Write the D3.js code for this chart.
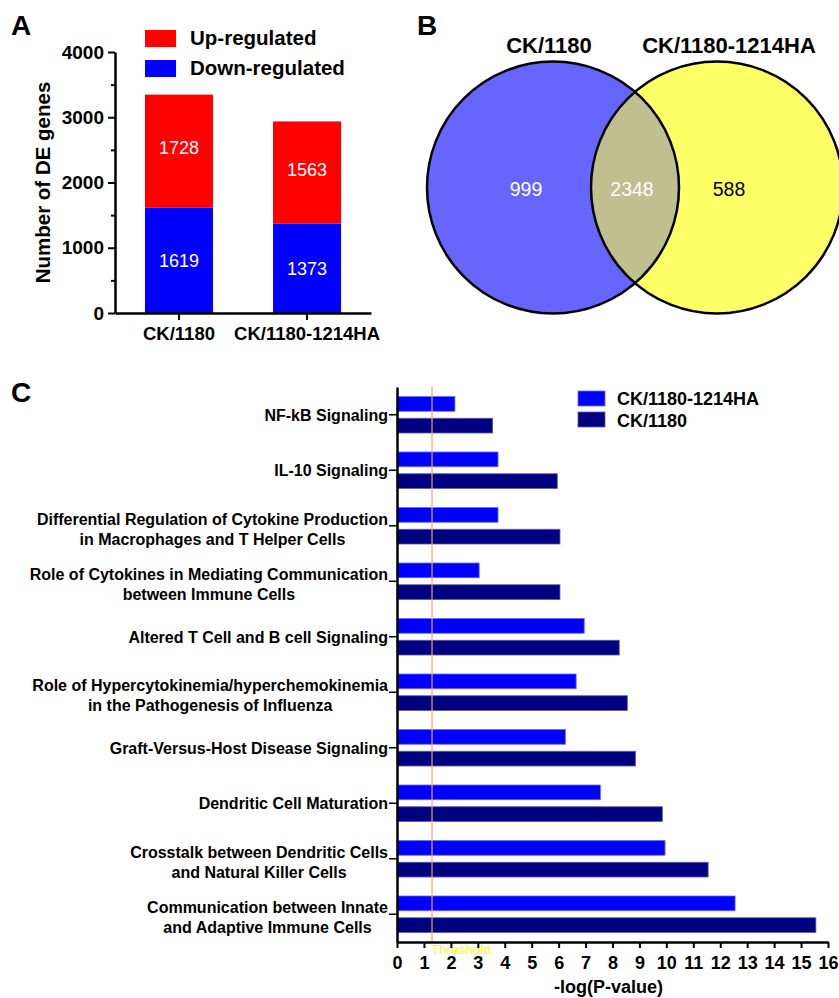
<!DOCTYPE html>
<html>
<head>
<meta charset="utf-8">
<script src="https://cdn.jsdelivr.net/npm/d3@7/dist/d3.min.js"></script>
<style>
  html, body { margin: 0; padding: 0; background: #fff; }
  svg { display: block; font-family: "Liberation Sans", Arial, Helvetica, sans-serif; }
</style>
</head>
<body>
<svg id="chart" width="839" height="998"></svg>
<script>
// ---------- DATA ----------
// Panel A
const groupsA = ["CK/1180", "CK/1180-1214HA"];
const downValues = [1619, 1373];
const upValues = [1728, 1563];
const seriesA = ["Up-regulated", "Down-regulated"];
const yTicksA = [0, 1000, 2000, 3000, 4000];

// Panel B
const vennSets = ["CK/1180", "CK/1180-1214HA"];
const vennOnlyLeft = 999;
const vennShared = 2348;
const vennOnlyRight = 588;

// Panel C
const pathways = [
  ["NF-kB Signaling"],
  ["IL-10 Signaling"],
  ["Differential Regulation of Cytokine Production", "in Macrophages and T Helper Cells"],
  ["Role of Cytokines in Mediating Communication", "between Immune Cells"],
  ["Altered T Cell and B cell Signaling"],
  ["Role of Hypercytokinemia/hyperchemokinemia", "in the Pathogenesis of Influenza"],
  ["Graft-Versus-Host Disease Signaling"],
  ["Dendritic Cell Maturation"],
  ["Crosstalk between Dendritic Cells", "and Natural Killer Cells"],
  ["Communication between Innate", "and Adaptive Immune Cells"]
];
const seriesC = ["CK/1180-1214HA", "CK/1180"];
const valuesHA = [2.15, 3.75, 3.75, 3.05, 6.95, 6.65, 6.25, 7.55, 9.95, 12.55];
const values1180 = [3.55, 5.95, 6.05, 6.05, 8.25, 8.55, 8.85, 9.85, 11.55, 15.55];
const xTicksC = d3.range(0, 17);
const threshold = 1.3;

// ---------- DRAW ----------
const svg = d3.select("#chart");
const black = "#000";

// Panel letters
svg.append("text").attr("x", 11).attr("y", 35).attr("font-size", 28).attr("font-weight", "bold").text("A");
svg.append("text").attr("x", 417).attr("y", 35).attr("font-size", 28).attr("font-weight", "bold").text("B");
svg.append("text").attr("x", 11).attr("y", 402).attr("font-size", 28).attr("font-weight", "bold").text("C");

// ===== Panel A =====
(function () {
  const left = 115, right = 371, top = 52, bottom = 313;
  const y = d3.scaleLinear().domain([0, 4000]).range([bottom, top]);
  const x = d3.scaleBand().domain(groupsA).range([left, right]).paddingInner(0.469).paddingOuter(0.234);
  const colors = { "Up-regulated": "#ff0000", "Down-regulated": "#0000ff" };
  const g = svg.append("g");

  groupsA.forEach((grp, i) => {
    const d = downValues[i], u = upValues[i];
    g.append("rect").attr("x", x(grp)).attr("width", x.bandwidth())
      .attr("y", y(d)).attr("height", y(0) - y(d)).attr("fill", colors["Down-regulated"]);
    g.append("rect").attr("x", x(grp)).attr("width", x.bandwidth())
      .attr("y", y(d + u)).attr("height", y(d) - y(d + u)).attr("fill", colors["Up-regulated"]);
    g.append("text").attr("x", x(grp) + x.bandwidth() / 2).attr("y", (y(0) + y(d)) / 2)
      .attr("dy", "0.36em").attr("text-anchor", "middle").attr("fill", "#fff").attr("font-size", 18).text(d);
    g.append("text").attr("x", x(grp) + x.bandwidth() / 2).attr("y", (y(d) + y(d + u)) / 2 - 3)
      .attr("dy", "0.36em").attr("text-anchor", "middle").attr("fill", "#fff").attr("font-size", 18).text(u);
  });

  const minor = g.append("g").attr("transform", `translate(${left},0)`)
    .call(d3.axisLeft(y).tickValues(d3.range(500, 4000, 1000)).tickSize(4).tickFormat(""));
  minor.select(".domain").remove();
  minor.selectAll("line").attr("stroke", black).attr("stroke-width", 2);

  const ya = g.append("g").attr("transform", `translate(${left},0)`)
    .call(d3.axisLeft(y).tickValues(yTicksA).tickSize(7).tickPadding(4).tickSizeOuter(0).tickFormat(d3.format("d")));
  ya.select(".domain").attr("stroke", black).attr("stroke-width", 2.5);
  ya.selectAll("line").attr("stroke", black).attr("stroke-width", 2);
  ya.selectAll("text").attr("font-size", 19).attr("font-weight", "bold").attr("fill", black).attr("font-family", null);

  const xa = g.append("g").attr("transform", `translate(0,${bottom})`)
    .call(d3.axisBottom(x).tickSize(7).tickPadding(7).tickSizeOuter(0));
  xa.select(".domain").attr("stroke", black).attr("stroke-width", 2.5);
  xa.selectAll("line").attr("stroke", black).attr("stroke-width", 2);
  xa.selectAll("text").attr("font-size", 18.5).attr("font-weight", "bold").attr("fill", black).attr("font-family", null);

  g.append("text").attr("transform", `translate(50,${(top + bottom) / 2})rotate(-90)`)
    .attr("text-anchor", "middle").attr("font-size", 20.5).attr("font-weight", "bold").text("Number of DE genes");

  seriesA.forEach((s, i) => {
    g.append("rect").attr("x", 145).attr("y", 30 + i * 30).attr("width", 31).attr("height", 17).attr("fill", colors[s]);
    g.append("text").attr("x", 190).attr("y", 45 + i * 30).attr("font-size", 20.5).attr("font-weight", "bold").text(s);
  });
})();

// ===== Panel B =====
(function () {
  const cx = d3.scalePoint().domain(vennSets).range([553, 717]);
  const cy = 187.5, r = 126;
  const g = svg.append("g");
  const defs = svg.append("defs");
  defs.append("clipPath").attr("id", "clipRight")
    .append("circle").attr("cx", cx(vennSets[1])).attr("cy", cy).attr("r", r);

  g.append("circle").attr("cx", cx(vennSets[0])).attr("cy", cy).attr("r", r).attr("fill", "#6666ff");
  g.append("circle").attr("cx", cx(vennSets[1])).attr("cy", cy).attr("r", r).attr("fill", "#ffff66");
  g.append("circle").attr("cx", cx(vennSets[0])).attr("cy", cy).attr("r", r).attr("fill", "#bfbf90")
    .attr("clip-path", "url(#clipRight)");
  vennSets.forEach(s => {
    g.append("circle").attr("cx", cx(s)).attr("cy", cy).attr("r", r).attr("fill", "none")
      .attr("stroke", black).attr("stroke-width", 2.5);
  });

  g.append("text").attr("x", 549).attr("y", 53).attr("text-anchor", "middle").attr("font-size", 22).attr("font-weight", "bold").text(vennSets[0]);
  g.append("text").attr("x", 729).attr("y", 53).attr("text-anchor", "middle").attr("font-size", 22).attr("font-weight", "bold").text(vennSets[1]);

  const mid = (cx(vennSets[0]) + cx(vennSets[1])) / 2;
  g.append("text").attr("x", 526).attr("y", cy + 8).attr("text-anchor", "middle").attr("font-size", 19.5).attr("fill", "#fff").text(vennOnlyLeft);
  g.append("text").attr("x", mid - 3).attr("y", cy + 8).attr("text-anchor", "middle").attr("font-size", 19.5).attr("fill", "#fff").text(vennShared);
  g.append("text").attr("x", 729).attr("y", cy + 8).attr("text-anchor", "middle").attr("font-size", 19.5).attr("fill", "#000").text(vennOnlyRight);
})();

// ===== Panel C =====
(function () {
  const left = 397, right = 828, top = 387, bottom = 942;
  const x = d3.scaleLinear().domain([0, 16]).range([left, right]);
  const keys = pathways.map(p => p.join(" "));
  const y0 = d3.scaleBand().domain(keys).range([top, bottom]).paddingInner(0.342).paddingOuter(0.171);
  const y1 = d3.scaleBand().domain(seriesC).range([0, y0.bandwidth()]).paddingInner(0.322);
  const colors = { "CK/1180-1214HA": "#0000ff", "CK/1180": "#000080" };
  const strokes = { "CK/1180-1214HA": "#6a6aff", "CK/1180": "#5a5aa8" };
  const g = svg.append("g");

  keys.forEach((k, i) => {
    const vals = { "CK/1180-1214HA": valuesHA[i], "CK/1180": values1180[i] };
    seriesC.forEach(s => {
      g.append("rect").attr("x", x(0)).attr("y", y0(k) + y1(s))
        .attr("width", x(vals[s]) - x(0)).attr("height", y1.bandwidth())
        .attr("fill", colors[s]).attr("stroke", strokes[s]).attr("stroke-width", 0.8);
    });
  });

  g.append("line").attr("x1", x(threshold)).attr("x2", x(threshold)).attr("y1", top).attr("y2", bottom)
    .attr("stroke", "#f5a46a").attr("stroke-width", 1.2);
  g.append("text").attr("x", x(threshold) - 1).attr("y", 954).attr("font-size", 13.5).attr("fill", "#ffff00").text("Threshold");

  const ya = g.append("g").attr("transform", `translate(${left},0)`)
    .call(d3.axisLeft(y0).tickSize(8).tickFormat("").tickSizeOuter(0));
  ya.select(".domain").attr("stroke", black).attr("stroke-width", 2.5);
  ya.selectAll("line").attr("stroke", black).attr("stroke-width", 1.5);

  keys.forEach((k, i) => {
    const lines = pathways[i];
    const cyv = y0(k) + y0.bandwidth() / 2;
    const tx = left - 9;
    if (lines.length === 1) {
      g.append("text").attr("x", tx).attr("y", cyv + 6).attr("text-anchor", "end")
        .attr("font-size", 16).attr("font-weight", "bold").text(lines[0]);
    } else {
      const t1 = g.append("text").attr("x", tx).attr("y", cyv - 1).attr("text-anchor", "end")
        .attr("font-size", 16).attr("font-weight", "bold").text(lines[0]);
      const w = t1.node().getComputedTextLength();
      g.append("text").attr("x", tx - w / 2).attr("y", cyv + 19).attr("text-anchor", "middle")
        .attr("font-size", 16).attr("font-weight", "bold").text(lines[1]);
    }
  });

  const xa = g.append("g").attr("transform", `translate(0,${bottom})`)
    .call(d3.axisBottom(x).tickValues(xTicksC).tickSize(6).tickPadding(8).tickFormat(d3.format("d")).tickSizeOuter(0));
  xa.select(".domain").attr("stroke", black).attr("stroke-width", 2.5);
  xa.selectAll("line").attr("stroke", black).attr("stroke-width", 2);
  xa.selectAll("text").attr("font-size", 18).attr("font-weight", "bold").attr("fill", black).attr("font-family", null);

  g.append("text").attr("x", (left + right) / 2 - 4).attr("y", 993).attr("text-anchor", "middle")
    .attr("font-size", 18).attr("font-weight", "bold").text("-log(P-value)");

  seriesC.forEach((s, i) => {
    g.append("rect").attr("x", 578).attr("y", 391 + i * 21).attr("width", 27).attr("height", 15)
      .attr("fill", colors[s]).attr("stroke", strokes[s]).attr("stroke-width", 0.8);
    g.append("text").attr("x", 617).attr("y", 405 + i * 22).attr("font-size", 18).attr("font-weight", "bold").text(s);
  });
})();
</script>
</body>
</html>
